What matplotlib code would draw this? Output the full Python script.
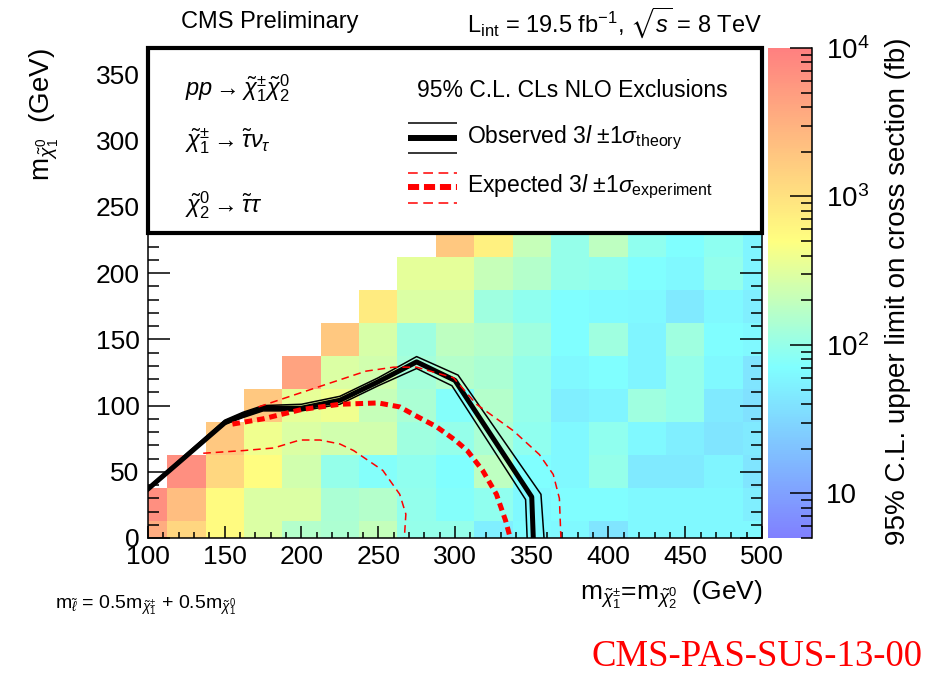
import numpy as np
import matplotlib
matplotlib.use("Agg")
import matplotlib.pyplot as plt
from matplotlib.colors import LinearSegmentedColormap, LogNorm
from matplotlib.patches import Rectangle
from matplotlib.ticker import MultipleLocator

plt.rcParams['font.family'] = ['Liberation Sans', 'DejaVu Sans']
plt.rcParams['mathtext.fontset'] = 'custom'
plt.rcParams['mathtext.rm'] = 'Liberation Sans'
plt.rcParams['mathtext.it'] = 'Liberation Sans:italic'
plt.rcParams['mathtext.bf'] = 'Liberation Sans:bold'
plt.rcParams['mathtext.sf'] = 'Liberation Sans'
plt.rcParams['mathtext.fallback'] = 'stixsans'
plt.rcParams['lines.scale_dashes'] = False

# chargino/neutralino2 mass (x) and LSP mass (y) grid points, GeV
mass_chargino = [100, 125, 150, 175, 200, 225, 250, 275, 300, 325, 350, 375, 400, 425, 450, 475, 500]
mass_lsp = [0, 25, 50, 75, 100, 125, 150, 175, 200, 225]

# 95% CL upper limit (fb), one list per chargino mass, from m_LSP = 0 upwards
upper_limit = [
    [3500, 7000],
    [1300, 2300, 7000],
    [560, 560, 1260, 1800],
    [290, 290, 520, 400, 1800],
    [160, 290, 250, 290, 340, 4300],
    [140, 135, 100, 250, 400, 290, 1800],
    [200, 160, 75, 250, 210, 250, 270, 800],
    [100, 95, 90, 115, 135, 125, 115, 290, 330],
    [100, 75, 72, 100, 75, 160, 185, 290, 330, 1800],
    [51, 90, 185, 135, 160, 135, 160, 115, 210, 700],
    [66, 63, 72, 90, 100, 100, 115, 90, 160, 210],
    [63, 70, 63, 63, 51, 63, 72, 72, 100, 100],
    [42, 70, 100, 90, 58, 72, 115, 66, 90, 185],
    [63, 63, 46, 63, 115, 58, 58, 63, 72, 90],
    [63, 63, 46, 51, 100, 100, 115, 46, 63, 72],
    [63, 63, 58, 42, 46, 63, 70, 63, 95, 88],
    [63, 51, 42, 46, 38, 42, 63, 51, 58, 58],
]

# observed exclusion contour and +-1 sigma theory
obs_x = [100, 150, 162, 175, 200, 225, 250, 275, 300, 350, 351]
obs_y = [37, 87, 93, 98, 98, 104, 118, 133, 119, 31, 0]
obs_up_x = [100, 150, 162, 175, 200, 225, 250, 275, 302, 356, 358]
obs_up_y = [38, 89, 95, 100, 101, 107, 121, 137, 123, 33, 0]
obs_dn_x = [100, 150, 162, 175, 200, 225, 250, 275, 298, 346, 347]
obs_dn_y = [36, 86, 91, 96, 96, 101, 115, 128, 115, 29, 0]

# expected contour and +-1 sigma experiment
exp_x = [155, 175, 200, 225, 250, 264, 275, 288, 300, 308, 318, 327, 333, 336]
exp_y = [86, 90, 97, 101, 102, 99, 92, 84, 74, 66, 51, 33, 13, 0]
exp_up_x = [172, 190, 216, 242, 260, 275, 299, 314, 338, 355, 364, 368, 369]
exp_up_y = [99, 106, 116, 126, 129, 129, 121, 101, 81, 63, 48, 30, 0]
exp_dn_x = [136, 162, 182, 199, 212, 225, 234, 253, 264, 268, 267]
exp_dn_y = [64, 66, 68, 74, 74, 71, 66, 51, 33, 18, 0]

grid = np.full((len(mass_lsp), len(mass_chargino)), np.nan)
for j, col in enumerate(upper_limit):
    grid[:len(col), j] = col

mx = np.array(mass_chargino, dtype=float)
my = np.array(mass_lsp, dtype=float)
x_edges = np.append(mx - 12.5, mx[-1] + 12.5)
y_edges = np.append(my - 12.5, my[-1] + 12.5)

cmap = LinearSegmentedColormap.from_list(
    'pale_rainbow',
    [(0.0, '#8080ff'), (0.349, '#80ffff'), (0.606, '#ffff80'), (1.0, '#ff8080')])
cmap.set_bad('white')

fig = plt.figure(figsize=(9.26, 6.73), dpi=100)
ax = fig.add_axes([0.1598, 0.2006, 0.6631, 0.728])
cax = fig.add_axes([0.8294, 0.2006, 0.0475, 0.728])

mesh = ax.pcolormesh(x_edges, y_edges, np.ma.masked_invalid(grid), cmap=cmap,
                     norm=LogNorm(vmin=5, vmax=1e4), edgecolors='face', linewidth=0,
                     zorder=1)

ax.plot(obs_up_x, obs_up_y, color='black', lw=1.1)
ax.plot(obs_dn_x, obs_dn_y, color='black', lw=1.1)
ax.plot(obs_x, obs_y, color='black', lw=3.6)
ax.plot(exp_up_x, exp_up_y, color='red', lw=1.1, dashes=(5.5, 3.5))
ax.plot(exp_dn_x, exp_dn_y, color='red', lw=1.1, dashes=(5.5, 3.5))
ax.plot(exp_x, exp_y, color='red', lw=3.6, dashes=(5.5, 3.5))

ax.set_xlim(100, 500)
ax.set_ylim(0, 370)
ax.xaxis.set_major_locator(MultipleLocator(50))
ax.xaxis.set_minor_locator(MultipleLocator(10))
ax.yaxis.set_major_locator(MultipleLocator(50))
ax.yaxis.set_minor_locator(MultipleLocator(10))
ax.tick_params(axis='x', which='major', direction='in', length=8.6, width=1.1,
               top=True, labelsize=19, pad=5)
ax.tick_params(axis='x', which='minor', direction='in', length=4.3, width=1.1, top=True)
ax.tick_params(axis='y', which='major', direction='in', length=16, width=1.1,
               right=True, labelsize=19, pad=6)
ax.tick_params(axis='y', which='minor', direction='in', length=8, width=1.1, right=True)
for sp in ax.spines.values():
    sp.set_linewidth(1.1)

# legend box over the upper part of the plane
ax.add_patch(Rectangle((0, 0.6224), 1, 0.3776, transform=ax.transAxes,
                       facecolor='white', edgecolor='black', lw=3, zorder=2.2,
                       clip_on=False))

ax.text(0.060, 0.918, r'$pp \rightarrow \tilde{\chi}_1^{\pm}\tilde{\chi}_2^0$',
        transform=ax.transAxes, fontsize=17, va='center', zorder=3)
ax.text(0.060, 0.810, r'$\tilde{\chi}_1^{\pm} \rightarrow \tilde{\tau}\nu_{\tau}$',
        transform=ax.transAxes, fontsize=17, va='center', zorder=3)
ax.text(0.060, 0.680, r'$\tilde{\chi}_2^0 \rightarrow \tilde{\tau}\tau$',
        transform=ax.transAxes, fontsize=17, va='center', zorder=3)
ax.text(0.438, 0.914, '95% C.L. CLs NLO Exclusions', transform=ax.transAxes,
        fontsize=16.5, va='center', zorder=3)

lx = [0.4235, 0.503]
for yy, lw in [(0.8476, 1.1), (0.8163, 4.3), (0.7857, 1.1)]:
    ax.plot(lx, [yy, yy], transform=ax.transAxes, color='black', lw=lw,
            solid_capstyle='butt', zorder=3)
for yy, lw, dash in [(0.7455, 1.1, (7, 4)), (0.7169, 4.3, (8, 3.5)), (0.6843, 1.1, (7, 4))]:
    ax.plot(lx, [yy, yy], transform=ax.transAxes, color='red', lw=lw,
            dashes=dash, dash_capstyle='butt', zorder=3)
ax.text(0.5195, 0.8163, r'Observed 3$l$ $\pm$1$\sigma_{\mathrm{theory}}$',
        transform=ax.transAxes, fontsize=16.5, va='center', zorder=3)
ax.text(0.5195, 0.716, r'Expected 3$l$ $\pm$1$\sigma_{\mathrm{experiment}}$',
        transform=ax.transAxes, fontsize=16.5, va='center', zorder=3)

# colour scale
cb = fig.colorbar(mesh, cax=cax)
cb.outline.set_visible(False)
cb.set_ticks([10, 100, 1000, 10000])
cb.set_ticklabels(['10', r'$10^2$', r'$10^3$', r'$10^4$'])
cb.minorticks_on()
cax.yaxis.set_ticks_position('right')
cax.tick_params(which='major', direction='in', length=16, width=1.1, labelsize=20, pad=10)
cax.tick_params(which='minor', direction='in', length=8, width=1.1)
cax.plot([1, 1], [0, 1], transform=cax.transAxes, color='black', lw=1.1, clip_on=False)

fig.text(0.970, 0.945, '95% C.L. upper limit on cross section (fb)', rotation=90,
         ha='center', va='top', fontsize=20)
fig.text(0.0475, 0.929, r'm$_{\tilde{\chi}_1^0}$  (GeV)', rotation=90,
         ha='center', va='top', fontsize=20)
fig.text(0.823, 0.1085, r'm$_{\tilde{\chi}_1^{\pm}}$=m$_{\tilde{\chi}_2^0}$  (GeV)',
         ha='right', va='baseline', fontsize=19)

fig.text(0.2916, 0.967, 'CMS Preliminary', ha='center', va='center', fontsize=17)
fig.text(0.823, 0.967, r'L$_{\mathrm{int}}$ = 19.5 fb$^{-1}$, $\sqrt{s}$ = 8 TeV',
         ha='right', va='center', fontsize=17)
fig.text(0.0594, 0.101,
         r'm$_{\tilde{\ell}}$ = 0.5m$_{\tilde{\chi}_1^{\pm}}$ + 0.5m$_{\tilde{\chi}_1^0}$',
         ha='left', va='center', fontsize=14)
fig.text(0.996, 0.01, 'CMS-PAS-SUS-13-00', color='red', family='Liberation Serif',
         fontsize=26.5, ha='right', va='baseline')

fig.savefig('out.png', dpi=100)
